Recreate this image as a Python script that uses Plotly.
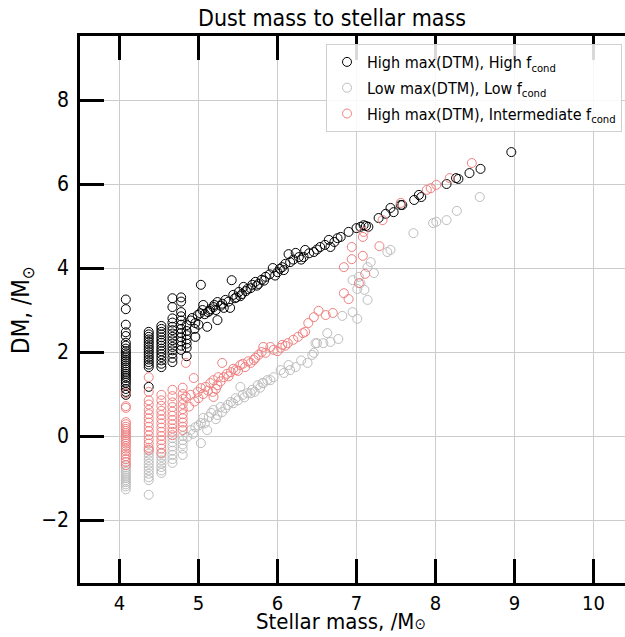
import plotly.graph_objects as go

# ---------------- data ----------------
# High max(DTM), High f_cond  (black)
hh_col_x = [4.08, 4.37, 4.53, 4.67, 4.78, 4.85]
hh_col_y = [
    [3.25, 3.02, 2.65, 2.47, 2.38, 2.22, 2.15, 2.08, 2.02, 1.97, 1.92, 1.87, 1.82, 1.78, 1.73,
     1.68, 1.63, 1.58, 1.53, 1.48, 1.43, 1.38, 1.32, 1.27, 1.2, 1.12, 1.05, 0.98],
    [2.48, 2.42, 2.36, 2.3, 2.24, 2.18, 2.12, 2.06, 2.0, 1.94, 1.88, 1.82, 1.76, 1.7, 1.64, 1.17],
    [2.62, 2.55, 2.48, 2.42, 2.35, 2.28, 2.22, 2.15, 2.08, 2.02, 1.95, 1.88, 1.8, 1.72, 1.64],
    [3.28, 3.07, 2.8, 2.7, 2.6, 2.52, 2.44, 2.36, 2.28, 2.2, 2.12, 2.04, 1.96, 1.86, 1.76],
    [3.3, 3.2, 2.95, 2.85, 2.75, 2.65, 2.55, 2.45, 2.35, 2.25, 2.15, 2.05],
    [2.64, 2.5, 2.4, 2.3, 2.2, 2.1, 1.9],
]
hh_band_x = [4.9, 4.92, 4.95, 4.96, 4.96, 4.99, 5.0, 5.03, 5.05, 5.06, 5.08, 5.11, 5.12, 5.15, 5.19,
             5.22, 5.24, 5.24, 5.28, 5.32, 5.34, 5.4, 5.42, 5.44, 5.48, 5.51, 5.55, 5.57, 5.62, 5.68,
             5.72, 5.76, 5.8, 5.85, 5.9, 5.94, 6.0, 6.03, 6.06, 6.1, 6.14, 6.16, 6.2, 6.23, 6.27,
             6.33, 6.35, 6.4, 6.46, 6.54, 6.6, 6.65, 6.67, 6.72, 6.76, 6.8, 6.9, 7.0, 7.05, 7.09,
             7.12, 7.15, 7.28, 7.37, 7.43, 7.47, 7.56, 7.58, 7.73, 7.79, 7.82, 8.14, 8.26, 8.29,
             8.43, 8.57, 8.96,
             5.02, 5.14, 5.2, 5.3, 5.38, 5.46, 5.53, 5.6, 5.66, 5.74, 5.83, 5.97, 6.08, 6.3, 6.5]
hh_band_y = [2.75, 2.81, 2.55, 2.69, 2.36, 2.88, 2.65, 3.6, 3.0, 3.12, 2.9, 2.6, 2.95, 3.02, 3.07,
             3.0, 3.19, 2.76, 3.1, 3.05, 3.24, 3.05, 3.71, 3.36, 3.3, 3.43, 3.38, 3.55, 3.5, 3.6,
             3.67, 3.62, 3.72, 3.79, 3.85, 4.0, 3.9, 3.98, 4.02, 4.1, 4.33, 4.14, 4.2, 4.36, 4.26,
             4.26, 4.43, 4.35, 4.38, 4.5, 4.55, 4.67, 4.5, 4.62, 4.71, 4.74, 4.86, 4.95, 4.98, 5.02,
             5.0, 4.98, 5.19, 5.29, 5.43, 5.33, 5.5, 5.5, 5.62, 5.74, 5.69, 6.0, 6.14, 6.12,
             6.26, 6.36, 6.76,
             2.92, 2.98, 3.12, 3.15, 3.2, 3.28, 3.33, 3.45, 3.52, 3.58, 3.7, 3.82, 3.95, 4.2, 4.44]

# Low max(DTM), Low f_cond  (grey)
ll_col_x = [4.08, 4.37, 4.53, 4.67, 4.8]
ll_col_y = [
    [-0.7, -0.75, -0.8, -0.85, -0.9, -0.95, -1.0, -1.05, -1.1, -1.15, -1.2, -1.27],
    [-0.35, -0.42, -0.5, -0.58, -0.66, -0.74, -0.82, -0.9, -0.98, -1.05, -1.4],
    [-0.42, -0.5, -0.58, -0.66, -0.74, -0.82, -0.88],
    [-0.05, -0.15, -0.25, -0.35, -0.45, -0.55, -0.64],
    [0.0, -0.1, -0.2, -0.3, -0.45],
]
ll_band_x = [4.86, 4.9, 4.96, 5.03, 5.03, 5.06, 5.11, 5.13, 5.19, 5.24, 5.28, 5.3, 5.37, 5.41, 5.47,
             5.53, 5.56, 5.62, 5.66, 5.68, 5.75, 5.81, 5.82, 5.87, 5.91, 5.95, 6.04, 6.08, 6.14, 6.16,
             6.23, 6.3, 6.38, 6.44, 6.46, 6.48, 6.5, 6.58, 6.63, 6.67, 6.77, 6.82, 6.95, 6.95, 7.01,
             7.01, 7.03, 7.05, 7.1, 7.14, 7.14, 7.18, 7.22, 7.39, 7.43, 7.72, 7.97, 8.01, 8.14,
             8.27, 8.56,
             4.93, 5.0, 5.08, 5.16, 5.22, 5.34, 5.44, 5.5, 5.58, 5.71, 5.78]
ll_band_y = [-0.02, 0.14, 0.21, 0.31, -0.17, 0.43, 0.14, 0.45, 0.62, 0.5, 0.69, 0.57, 0.74, 0.81, 0.9,
             1.17, 0.98, 1.02, 1.02, 1.1, 1.21, 1.26, 1.26, 1.33, 1.33, 1.4, 1.57, 1.5, 1.69, 1.57,
             1.64, 1.8, 1.74, 1.93, 1.98, 2.21, 2.21, 2.21, 2.45, 2.24, 2.31, 2.86, 2.95, 3.71, 2.79,
             3.5, 3.79, 3.64, 3.48, 3.24, 4.02, 4.14, 3.88, 4.38, 4.43, 4.83, 5.07, 5.1, 5.14,
             5.36, 5.69,
             0.05, 0.25, 0.3, 0.55, 0.4, 0.66, 0.78, 0.85, 0.92, 1.05, 1.15]

# High max(DTM), Intermediate f_cond  (light red)
hi_col_x = [4.08, 4.37, 4.53, 4.67, 4.8]
hi_col_y = [
    [1.02, 0.71, 0.67, 0.33, 0.28, 0.22, 0.17, 0.12, 0.07, 0.02, -0.03, -0.08, -0.13, -0.18, -0.24,
     -0.3, -0.36, -0.42, -0.48, -0.55, -0.62, -0.69],
    [1.4, 1.05, 0.85, 0.75, 0.62, 0.52, 0.42, 0.32, 0.22, 0.12, 0.02, -0.08, -0.18, -0.28, -0.33],
    [0.98, 0.85, 0.72, 0.6, 0.5, 0.4, 0.3, 0.2, 0.1, 0.0, -0.1, -0.2, -0.3, -0.4],
    [1.1, 0.95, 0.8, 0.69, 0.58, 0.48, 0.38, 0.28, 0.18, 0.1, 0.02],
    [1.15, 1.0, 0.88, 0.76, 0.64, 0.52, 0.42, 0.32, 0.22, 0.14],
]
hi_band_x = [4.84, 4.84, 4.9, 4.94, 4.99, 5.03, 5.09, 5.15, 5.18, 5.19, 5.19, 5.24, 5.25, 5.3, 5.32,
             5.36, 5.41, 5.47, 5.53, 5.59, 5.63, 5.66, 5.7, 5.76, 5.82, 5.85, 5.91, 5.95, 6.04, 6.06,
             6.13, 6.2, 6.32, 6.35, 6.39, 6.46, 6.52, 6.61, 6.7, 6.84, 6.9, 6.84, 6.94, 6.94, 7.03,
             7.08, 7.08, 7.09, 7.11, 7.29, 7.33, 7.56, 7.89, 7.94, 8.01, 8.18, 8.46,
             4.88, 4.95, 5.0, 5.06, 5.12, 5.22, 5.28, 5.38, 5.44, 5.5, 5.56, 5.72, 5.8, 6.0, 6.1, 6.26]
hi_band_y = [1.74, 0.93, 0.98, 1.38, 1.05, 1.14, 1.17, 1.26, 1.05, 1.33, 0.93, 1.21, 1.4, 1.74, 1.4,
             1.48, 1.52, 1.57, 1.69, 1.64, 1.78, 1.74, 1.81, 1.93, 2.12, 1.98, 2.12, 2.05, 2.1, 2.17,
             2.21, 2.29, 2.45, 2.48, 2.69, 2.83, 2.98, 2.88, 2.93, 3.4, 3.26, 4.02, 4.21, 4.5, 3.64,
             4.29, 4.74, 4.86, 3.86, 4.52, 5.14, 5.55, 5.86, 5.9, 5.98, 6.14, 6.5,
             0.7, 0.82, 0.9, 1.0, 1.08, 1.12, 1.3, 1.42, 1.6, 1.55, 1.72, 1.86, 2.0, 2.02, 2.15, 2.36]

x_ticks = [4, 5, 6, 7, 8, 9, 10]
y_ticks = [-2, 0, 2, 4, 6, 8]


def flatten(col_x, col_y, band_x, band_y):
    xs, ys = [], []
    for cx, cy in zip(col_x, col_y):
        xs += [cx] * len(cy)
        ys += cy
    return xs + band_x, ys + band_y


series = [
    ("High max(DTM), High f<sub>cond</sub>", "#000000", hh_col_x, hh_col_y, hh_band_x, hh_band_y),
    ("Low max(DTM), Low f<sub>cond</sub>", "#bdbdbd", ll_col_x, ll_col_y, ll_band_x, ll_band_y),
    ("High max(DTM), Intermediate f<sub>cond</sub>", "#f08080", hi_col_x, hi_col_y, hi_band_x, hi_band_y),
]

fig = go.Figure()
for i, (name, color, cx, cy, bx, by) in enumerate(series):
    xs, ys = flatten(cx, cy, bx, by)
    fig.add_trace(go.Scatter(
        x=xs, y=ys, mode="markers", name=name, legendgroup=f"g{i}",
        marker=dict(symbol="circle-open", size=9, color=color, line=dict(width=1, color=color)),
    ))

FONT = "DejaVu Sans Condensed, DejaVu Sans"
xr = [3.5, 3.5 + 545 / 79]
yr = [-3.5, 400 / 42]

fig.update_layout(
    width=625, height=637, autosize=False,
    margin=dict(l=80, r=0, t=36, b=54),
    paper_bgcolor="white", plot_bgcolor="white",
    font=dict(family=FONT, color="black"),
    title=dict(text="Dust mass to stellar mass", x=332 / 625, xanchor="center",
               y=1 - 18 / 637, yanchor="middle", font=dict(size=23, family=FONT)),
    xaxis=dict(range=xr, tickvals=x_ticks, ticks="inside", ticklen=24, tickwidth=2.5,
               tickcolor="black", showline=True, linewidth=2.5, linecolor="black",
               mirror="ticks", showgrid=True, gridcolor="#cccccc", gridwidth=1,
               zeroline=False, tickfont=dict(size=20, family=FONT), ticklabelstandoff=0),
    yaxis=dict(range=yr, tickvals=y_ticks, ticks="inside", ticklen=24, tickwidth=2.5,
               tickcolor="black", showline=True, linewidth=2.5, linecolor="black",
               showgrid=True, gridcolor="#cccccc", gridwidth=1, zeroline=False,
               tickfont=dict(size=21, family=FONT), ticklabelstandoff=4),
    yaxis2=dict(range=yr, tickvals=y_ticks, overlaying="y", side="right", anchor="x",
                ticks="inside", ticklen=16, tickwidth=2.5, tickcolor="black",
                showticklabels=False, showgrid=False, showline=False, zeroline=False),
    legend=dict(x=542 / 545, xanchor="right", y=1 - 8 / 547, yanchor="top",
                bgcolor="rgba(255,255,255,0.85)", bordercolor="#d0d0d0", borderwidth=1,
                tracegroupgap=2, font=dict(size=16, family=FONT)),
    showlegend=True,
    annotations=[
        dict(text="Stellar mass, /M<span style='font-size:15px'>⊙</span>", xref="paper", yref="paper",
             x=(341 - 80) / 545, y=-(636 - 583) / 547, xanchor="center", yanchor="bottom",
             showarrow=False, font=dict(size=22, family=FONT)),
        dict(text="DM, /M<sub>⊙</sub>", xref="paper", yref="paper",
             x=-(80 - 22) / 545, y=(583 - 310) / 547, xanchor="center", yanchor="middle",
             textangle=-90, showarrow=False, font=dict(size=24, family=FONT)),
    ],
)

fig.write_html("out.html", config={"displayModeBar": False},
               post_script="document.body.style.margin='0px';document.body.style.overflow='hidden';")
